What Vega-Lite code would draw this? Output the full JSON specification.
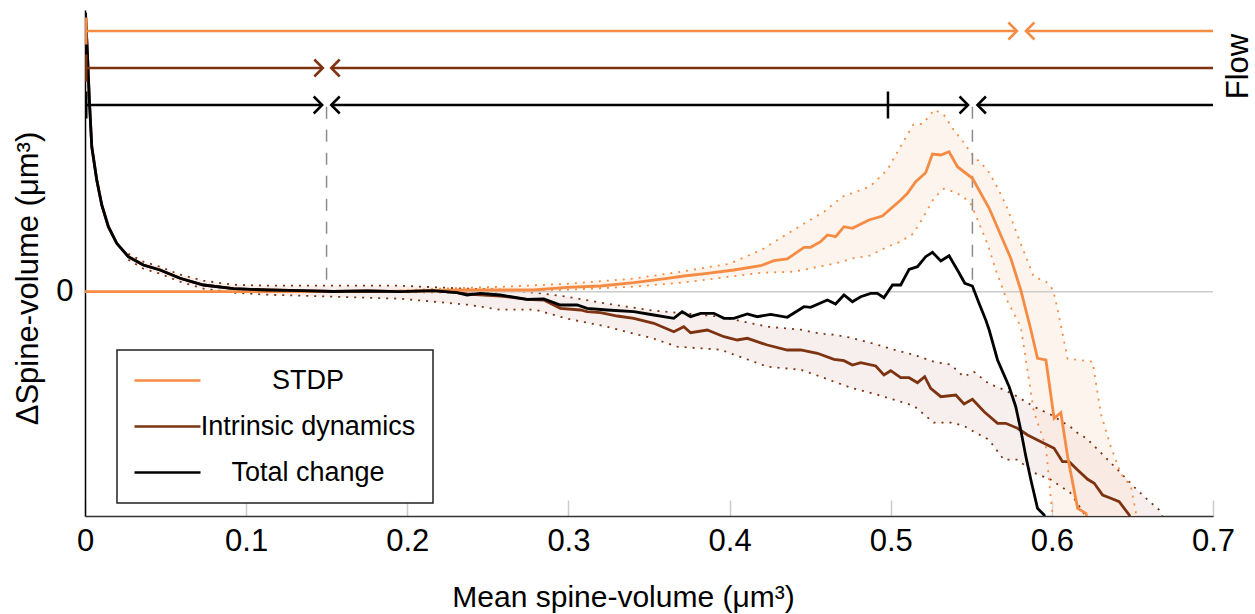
{
  "$schema": "https://vega.github.io/schema/vega-lite/v6.json",
  "width": 1128,
  "height": 506,
  "autosize": {"type": "none"},
  "padding": {"left": 85, "top": 10, "right": 42, "bottom": 98},
  "config": {
    "view": {"stroke": null},
    "font": "Liberation Sans",
    "legend": {"strokeWidth": 1.5}
  },
  "datasets": {
    "curves": [
      {"series": "Intrinsic dynamics", "x": 0.0003, "y": 2.79},
      {"series": "Intrinsic dynamics", "x": 0.0014, "y": 2.417},
      {"series": "Intrinsic dynamics", "x": 0.0027, "y": 1.917},
      {"series": "Intrinsic dynamics", "x": 0.0042, "y": 1.45},
      {"series": "Intrinsic dynamics", "x": 0.0073, "y": 1.117},
      {"series": "Intrinsic dynamics", "x": 0.0104, "y": 0.867},
      {"series": "Intrinsic dynamics", "x": 0.0145, "y": 0.65},
      {"series": "Intrinsic dynamics", "x": 0.0197, "y": 0.484},
      {"series": "Intrinsic dynamics", "x": 0.0269, "y": 0.35},
      {"series": "Intrinsic dynamics", "x": 0.0362, "y": 0.267},
      {"series": "Intrinsic dynamics", "x": 0.0466, "y": 0.217},
      {"series": "Intrinsic dynamics", "x": 0.059, "y": 0.134},
      {"series": "Intrinsic dynamics", "x": 0.0735, "y": 0.067},
      {"series": "Intrinsic dynamics", "x": 0.0921, "y": 0.03},
      {"series": "Intrinsic dynamics", "x": 0.1129, "y": 0.017},
      {"series": "Intrinsic dynamics", "x": 0.1335, "y": 0.01},
      {"series": "Intrinsic dynamics", "x": 0.154, "y": 0.002},
      {"series": "Intrinsic dynamics", "x": 0.175, "y": 0.007},
      {"series": "Intrinsic dynamics", "x": 0.1957, "y": 0.0},
      {"series": "Intrinsic dynamics", "x": 0.2161, "y": 0.01},
      {"series": "Intrinsic dynamics", "x": 0.2309, "y": -0.01},
      {"series": "Intrinsic dynamics", "x": 0.2371, "y": -0.023},
      {"series": "Intrinsic dynamics", "x": 0.2578, "y": -0.043},
      {"series": "Intrinsic dynamics", "x": 0.2743, "y": -0.076},
      {"series": "Intrinsic dynamics", "x": 0.2847, "y": -0.083},
      {"series": "Intrinsic dynamics", "x": 0.295, "y": -0.166},
      {"series": "Intrinsic dynamics", "x": 0.3075, "y": -0.183},
      {"series": "Intrinsic dynamics", "x": 0.3116, "y": -0.2},
      {"series": "Intrinsic dynamics", "x": 0.3199, "y": -0.21},
      {"series": "Intrinsic dynamics", "x": 0.3303, "y": -0.243},
      {"series": "Intrinsic dynamics", "x": 0.3406, "y": -0.266},
      {"series": "Intrinsic dynamics", "x": 0.353, "y": -0.316},
      {"series": "Intrinsic dynamics", "x": 0.3654, "y": -0.4},
      {"series": "Intrinsic dynamics", "x": 0.3716, "y": -0.35},
      {"series": "Intrinsic dynamics", "x": 0.3758, "y": -0.41},
      {"series": "Intrinsic dynamics", "x": 0.3862, "y": -0.383},
      {"series": "Intrinsic dynamics", "x": 0.3965, "y": -0.45},
      {"series": "Intrinsic dynamics", "x": 0.4048, "y": -0.483},
      {"series": "Intrinsic dynamics", "x": 0.411, "y": -0.466},
      {"series": "Intrinsic dynamics", "x": 0.4234, "y": -0.533},
      {"series": "Intrinsic dynamics", "x": 0.4358, "y": -0.583},
      {"series": "Intrinsic dynamics", "x": 0.4441, "y": -0.583},
      {"series": "Intrinsic dynamics", "x": 0.4545, "y": -0.616},
      {"series": "Intrinsic dynamics", "x": 0.4648, "y": -0.676},
      {"series": "Intrinsic dynamics", "x": 0.471, "y": -0.69},
      {"series": "Intrinsic dynamics", "x": 0.4762, "y": -0.733},
      {"series": "Intrinsic dynamics", "x": 0.4814, "y": -0.71},
      {"series": "Intrinsic dynamics", "x": 0.4907, "y": -0.743},
      {"series": "Intrinsic dynamics", "x": 0.4958, "y": -0.833},
      {"series": "Intrinsic dynamics", "x": 0.5, "y": -0.79},
      {"series": "Intrinsic dynamics", "x": 0.5062, "y": -0.86},
      {"series": "Intrinsic dynamics", "x": 0.5114, "y": -0.86},
      {"series": "Intrinsic dynamics", "x": 0.5166, "y": -0.91},
      {"series": "Intrinsic dynamics", "x": 0.5211, "y": -0.85},
      {"series": "Intrinsic dynamics", "x": 0.5248, "y": -0.966},
      {"series": "Intrinsic dynamics", "x": 0.5311, "y": -1.05},
      {"series": "Intrinsic dynamics", "x": 0.5404, "y": -1.033},
      {"series": "Intrinsic dynamics", "x": 0.5455, "y": -1.123},
      {"series": "Intrinsic dynamics", "x": 0.5507, "y": -1.076},
      {"series": "Intrinsic dynamics", "x": 0.558, "y": -1.2},
      {"series": "Intrinsic dynamics", "x": 0.5663, "y": -1.316},
      {"series": "Intrinsic dynamics", "x": 0.5714, "y": -1.316},
      {"series": "Intrinsic dynamics", "x": 0.5787, "y": -1.366},
      {"series": "Intrinsic dynamics", "x": 0.5849, "y": -1.433},
      {"series": "Intrinsic dynamics", "x": 0.5932, "y": -1.5},
      {"series": "Intrinsic dynamics", "x": 0.6014, "y": -1.566},
      {"series": "Intrinsic dynamics", "x": 0.6066, "y": -1.7},
      {"series": "Intrinsic dynamics", "x": 0.6107, "y": -1.7},
      {"series": "Intrinsic dynamics", "x": 0.616, "y": -1.783},
      {"series": "Intrinsic dynamics", "x": 0.6222, "y": -1.876},
      {"series": "Intrinsic dynamics", "x": 0.6263, "y": -1.916},
      {"series": "Intrinsic dynamics", "x": 0.6315, "y": -2.033},
      {"series": "Intrinsic dynamics", "x": 0.6366, "y": -2.066},
      {"series": "Intrinsic dynamics", "x": 0.6418, "y": -2.1},
      {"series": "Intrinsic dynamics", "x": 0.648, "y": -2.233},
      {"series": "Intrinsic dynamics", "x": 0.65, "y": -2.33},
      {"series": "STDP", "x": 0, "y": 0},
      {"series": "STDP", "x": 0.05, "y": 0},
      {"series": "STDP", "x": 0.1, "y": 0},
      {"series": "STDP", "x": 0.15, "y": 0},
      {"series": "STDP", "x": 0.2, "y": 0.005},
      {"series": "STDP", "x": 0.2371, "y": 0.017},
      {"series": "STDP", "x": 0.2783, "y": 0.017},
      {"series": "STDP", "x": 0.2992, "y": 0.044},
      {"series": "STDP", "x": 0.3199, "y": 0.057},
      {"series": "STDP", "x": 0.3406, "y": 0.09},
      {"series": "STDP", "x": 0.3613, "y": 0.134},
      {"series": "STDP", "x": 0.3716, "y": 0.157},
      {"series": "STDP", "x": 0.3862, "y": 0.184},
      {"series": "STDP", "x": 0.4027, "y": 0.217},
      {"series": "STDP", "x": 0.4193, "y": 0.26},
      {"series": "STDP", "x": 0.4275, "y": 0.31},
      {"series": "STDP", "x": 0.4358, "y": 0.327},
      {"series": "STDP", "x": 0.4462, "y": 0.444},
      {"series": "STDP", "x": 0.4503, "y": 0.444},
      {"series": "STDP", "x": 0.4565, "y": 0.5},
      {"series": "STDP", "x": 0.4607, "y": 0.567},
      {"series": "STDP", "x": 0.4658, "y": 0.55},
      {"series": "STDP", "x": 0.471, "y": 0.65},
      {"series": "STDP", "x": 0.4762, "y": 0.634},
      {"series": "STDP", "x": 0.4865, "y": 0.717},
      {"series": "STDP", "x": 0.4948, "y": 0.757},
      {"series": "STDP", "x": 0.5062, "y": 0.917},
      {"series": "STDP", "x": 0.5104, "y": 0.984},
      {"series": "STDP", "x": 0.5155, "y": 1.1},
      {"series": "STDP", "x": 0.5217, "y": 1.19},
      {"series": "STDP", "x": 0.5259, "y": 1.377},
      {"series": "STDP", "x": 0.5311, "y": 1.367},
      {"series": "STDP", "x": 0.5362, "y": 1.4},
      {"series": "STDP", "x": 0.5414, "y": 1.25},
      {"series": "STDP", "x": 0.5507, "y": 1.134},
      {"series": "STDP", "x": 0.5611, "y": 0.834},
      {"series": "STDP", "x": 0.5745, "y": 0.334},
      {"series": "STDP", "x": 0.5807, "y": 0.017},
      {"series": "STDP", "x": 0.587, "y": -0.383},
      {"series": "STDP", "x": 0.5911, "y": -0.666},
      {"series": "STDP", "x": 0.5963, "y": -0.683},
      {"series": "STDP", "x": 0.6014, "y": -1.266},
      {"series": "STDP", "x": 0.6056, "y": -1.21},
      {"series": "STDP", "x": 0.6098, "y": -1.65},
      {"series": "STDP", "x": 0.616, "y": -2.166},
      {"series": "STDP", "x": 0.6211, "y": -2.216},
      {"series": "STDP", "x": 0.623, "y": -2.33},
      {"series": "Total change", "x": 0.0003, "y": 2.79},
      {"series": "Total change", "x": 0.0014, "y": 2.417},
      {"series": "Total change", "x": 0.0027, "y": 1.917},
      {"series": "Total change", "x": 0.0042, "y": 1.45},
      {"series": "Total change", "x": 0.0073, "y": 1.117},
      {"series": "Total change", "x": 0.0104, "y": 0.867},
      {"series": "Total change", "x": 0.0145, "y": 0.65},
      {"series": "Total change", "x": 0.0197, "y": 0.484},
      {"series": "Total change", "x": 0.0269, "y": 0.35},
      {"series": "Total change", "x": 0.0362, "y": 0.267},
      {"series": "Total change", "x": 0.0466, "y": 0.217},
      {"series": "Total change", "x": 0.059, "y": 0.134},
      {"series": "Total change", "x": 0.0735, "y": 0.067},
      {"series": "Total change", "x": 0.0921, "y": 0.03},
      {"series": "Total change", "x": 0.1129, "y": 0.017},
      {"series": "Total change", "x": 0.1335, "y": 0.01},
      {"series": "Total change", "x": 0.154, "y": 0.002},
      {"series": "Total change", "x": 0.175, "y": 0.007},
      {"series": "Total change", "x": 0.1957, "y": 0.0},
      {"series": "Total change", "x": 0.2161, "y": 0.01},
      {"series": "Total change", "x": 0.2309, "y": -0.01},
      {"series": "Total change", "x": 0.2371, "y": -0.033},
      {"series": "Total change", "x": 0.2453, "y": -0.016},
      {"series": "Total change", "x": 0.2578, "y": -0.033},
      {"series": "Total change", "x": 0.2743, "y": -0.076},
      {"series": "Total change", "x": 0.2847, "y": -0.073},
      {"series": "Total change", "x": 0.295, "y": -0.133},
      {"series": "Total change", "x": 0.3054, "y": -0.133},
      {"series": "Total change", "x": 0.3116, "y": -0.166},
      {"series": "Total change", "x": 0.324, "y": -0.183},
      {"series": "Total change", "x": 0.3406, "y": -0.2},
      {"series": "Total change", "x": 0.353, "y": -0.233},
      {"series": "Total change", "x": 0.3654, "y": -0.266},
      {"series": "Total change", "x": 0.3706, "y": -0.2},
      {"series": "Total change", "x": 0.3758, "y": -0.25},
      {"series": "Total change", "x": 0.382, "y": -0.216},
      {"series": "Total change", "x": 0.3902, "y": -0.216},
      {"series": "Total change", "x": 0.3965, "y": -0.266},
      {"series": "Total change", "x": 0.4027, "y": -0.266},
      {"series": "Total change", "x": 0.411, "y": -0.223},
      {"series": "Total change", "x": 0.4172, "y": -0.25},
      {"series": "Total change", "x": 0.4255, "y": -0.226},
      {"series": "Total change", "x": 0.4358, "y": -0.256},
      {"series": "Total change", "x": 0.4462, "y": -0.15},
      {"series": "Total change", "x": 0.4503, "y": -0.156},
      {"series": "Total change", "x": 0.4607, "y": -0.083},
      {"series": "Total change", "x": 0.4658, "y": -0.123},
      {"series": "Total change", "x": 0.471, "y": -0.033},
      {"series": "Total change", "x": 0.4762, "y": -0.1},
      {"series": "Total change", "x": 0.4814, "y": -0.05},
      {"series": "Total change", "x": 0.4876, "y": -0.016},
      {"series": "Total change", "x": 0.4917, "y": -0.016},
      {"series": "Total change", "x": 0.4958, "y": -0.06},
      {"series": "Total change", "x": 0.5011, "y": 0.067},
      {"series": "Total change", "x": 0.5062, "y": 0.067},
      {"series": "Total change", "x": 0.5114, "y": 0.224},
      {"series": "Total change", "x": 0.5166, "y": 0.25},
      {"series": "Total change", "x": 0.5217, "y": 0.35},
      {"series": "Total change", "x": 0.5259, "y": 0.394},
      {"series": "Total change", "x": 0.5311, "y": 0.307},
      {"series": "Total change", "x": 0.5362, "y": 0.36},
      {"series": "Total change", "x": 0.5414, "y": 0.217},
      {"series": "Total change", "x": 0.546, "y": 0.084},
      {"series": "Total change", "x": 0.5507, "y": 0.057},
      {"series": "Total change", "x": 0.5548, "y": -0.116},
      {"series": "Total change", "x": 0.559, "y": -0.283},
      {"series": "Total change", "x": 0.5611, "y": -0.383},
      {"series": "Total change", "x": 0.5663, "y": -0.683},
      {"series": "Total change", "x": 0.5735, "y": -0.95},
      {"series": "Total change", "x": 0.5776, "y": -1.15},
      {"series": "Total change", "x": 0.5807, "y": -1.383},
      {"series": "Total change", "x": 0.5839, "y": -1.65},
      {"series": "Total change", "x": 0.587, "y": -1.883},
      {"series": "Total change", "x": 0.5911, "y": -2.166},
      {"series": "Total change", "x": 0.5952, "y": -2.233},
      {"series": "Total change", "x": 0.597, "y": -2.38}
    ],
    "bands": [
      {"series": "Intrinsic dynamics", "x": 0.0269, "lo": 0.32, "hi": 0.38},
      {"series": "Intrinsic dynamics", "x": 0.0362, "lo": 0.23, "hi": 0.3},
      {"series": "Intrinsic dynamics", "x": 0.0466, "lo": 0.18, "hi": 0.25},
      {"series": "Intrinsic dynamics", "x": 0.059, "lo": 0.1, "hi": 0.17},
      {"series": "Intrinsic dynamics", "x": 0.0735, "lo": 0.03, "hi": 0.11},
      {"series": "Intrinsic dynamics", "x": 0.0921, "lo": -0.01, "hi": 0.07},
      {"series": "Intrinsic dynamics", "x": 0.113, "lo": -0.03, "hi": 0.06},
      {"series": "Intrinsic dynamics", "x": 0.154, "lo": -0.05, "hi": 0.06},
      {"series": "Intrinsic dynamics", "x": 0.1957, "lo": -0.07, "hi": 0.06},
      {"series": "Intrinsic dynamics", "x": 0.2371, "lo": -0.13, "hi": 0.03},
      {"series": "Intrinsic dynamics", "x": 0.2578, "lo": -0.18, "hi": 0.02},
      {"series": "Intrinsic dynamics", "x": 0.2795, "lo": -0.18, "hi": -0.01},
      {"series": "Intrinsic dynamics", "x": 0.2992, "lo": -0.27, "hi": -0.05},
      {"series": "Intrinsic dynamics", "x": 0.324, "lo": -0.35, "hi": -0.12},
      {"series": "Intrinsic dynamics", "x": 0.353, "lo": -0.47, "hi": -0.19},
      {"series": "Intrinsic dynamics", "x": 0.3675, "lo": -0.55, "hi": -0.21},
      {"series": "Intrinsic dynamics", "x": 0.3944, "lo": -0.58, "hi": -0.25},
      {"series": "Intrinsic dynamics", "x": 0.4234, "lo": -0.75, "hi": -0.35},
      {"series": "Intrinsic dynamics", "x": 0.4441, "lo": -0.78, "hi": -0.38},
      {"series": "Intrinsic dynamics", "x": 0.4565, "lo": -0.85, "hi": -0.42},
      {"series": "Intrinsic dynamics", "x": 0.4648, "lo": -0.9, "hi": -0.43},
      {"series": "Intrinsic dynamics", "x": 0.4752, "lo": -0.96, "hi": -0.46},
      {"series": "Intrinsic dynamics", "x": 0.4917, "lo": -1.03, "hi": -0.53},
      {"series": "Intrinsic dynamics", "x": 0.5019, "lo": -1.08, "hi": -0.58},
      {"series": "Intrinsic dynamics", "x": 0.5143, "lo": -1.14, "hi": -0.63},
      {"series": "Intrinsic dynamics", "x": 0.5267, "lo": -1.31, "hi": -0.7},
      {"series": "Intrinsic dynamics", "x": 0.5373, "lo": -1.31, "hi": -0.73},
      {"series": "Intrinsic dynamics", "x": 0.5453, "lo": -1.34, "hi": -0.85},
      {"series": "Intrinsic dynamics", "x": 0.5516, "lo": -1.4, "hi": -0.8},
      {"series": "Intrinsic dynamics", "x": 0.5609, "lo": -1.48, "hi": -0.92},
      {"series": "Intrinsic dynamics", "x": 0.5702, "lo": -1.68, "hi": -0.98},
      {"series": "Intrinsic dynamics", "x": 0.5787, "lo": -1.68, "hi": -1.05},
      {"series": "Intrinsic dynamics", "x": 0.5888, "lo": -1.81, "hi": -1.15},
      {"series": "Intrinsic dynamics", "x": 0.5994, "lo": -1.88, "hi": -1.23},
      {"series": "Intrinsic dynamics", "x": 0.6114, "lo": -2.01, "hi": -1.35},
      {"series": "Intrinsic dynamics", "x": 0.6172, "lo": -2.15, "hi": -1.43},
      {"series": "Intrinsic dynamics", "x": 0.6211, "lo": -2.25, "hi": -1.46},
      {"series": "Intrinsic dynamics", "x": 0.6304, "lo": -2.3, "hi": -1.61},
      {"series": "Intrinsic dynamics", "x": 0.6408, "lo": -2.3, "hi": -1.78},
      {"series": "Intrinsic dynamics", "x": 0.6509, "lo": -2.3, "hi": -1.95},
      {"series": "Intrinsic dynamics", "x": 0.6594, "lo": -2.3, "hi": -2.08},
      {"series": "Intrinsic dynamics", "x": 0.6665, "lo": -2.3, "hi": -2.18},
      {"series": "Intrinsic dynamics", "x": 0.67, "lo": -2.3, "hi": -2.3},
      {"series": "STDP", "x": 0.18, "lo": 0, "hi": 0},
      {"series": "STDP", "x": 0.22, "lo": -0.01, "hi": 0.03},
      {"series": "STDP", "x": 0.26, "lo": 0, "hi": 0.05},
      {"series": "STDP", "x": 0.3, "lo": 0.02, "hi": 0.08},
      {"series": "STDP", "x": 0.34, "lo": 0.05, "hi": 0.13},
      {"series": "STDP", "x": 0.37, "lo": 0.09, "hi": 0.2},
      {"series": "STDP", "x": 0.4, "lo": 0.15, "hi": 0.28},
      {"series": "STDP", "x": 0.42, "lo": 0.19, "hi": 0.42},
      {"series": "STDP", "x": 0.44, "lo": 0.2, "hi": 0.62},
      {"series": "STDP", "x": 0.4586, "lo": 0.26, "hi": 0.8},
      {"series": "STDP", "x": 0.47, "lo": 0.3, "hi": 0.95},
      {"series": "STDP", "x": 0.4752, "lo": 0.33, "hi": 0.98},
      {"series": "STDP", "x": 0.487, "lo": 0.36, "hi": 1.05},
      {"series": "STDP", "x": 0.498, "lo": 0.45, "hi": 1.22},
      {"series": "STDP", "x": 0.506, "lo": 0.5, "hi": 1.45},
      {"series": "STDP", "x": 0.514, "lo": 0.58, "hi": 1.67},
      {"series": "STDP", "x": 0.52, "lo": 0.74, "hi": 1.68},
      {"series": "STDP", "x": 0.527, "lo": 0.94, "hi": 1.82},
      {"series": "STDP", "x": 0.533, "lo": 1.03, "hi": 1.77},
      {"series": "STDP", "x": 0.539, "lo": 1.0, "hi": 1.62},
      {"series": "STDP", "x": 0.545, "lo": 0.95, "hi": 1.5},
      {"series": "STDP", "x": 0.55, "lo": 0.87, "hi": 1.38},
      {"series": "STDP", "x": 0.56, "lo": 0.48, "hi": 1.22},
      {"series": "STDP", "x": 0.566, "lo": 0.18, "hi": 1.05},
      {"series": "STDP", "x": 0.572, "lo": -0.08, "hi": 0.85},
      {"series": "STDP", "x": 0.5807, "lo": -0.35, "hi": 0.48},
      {"series": "STDP", "x": 0.5888, "lo": -1.2, "hi": 0.15},
      {"series": "STDP", "x": 0.5963, "lo": -1.55, "hi": 0.1},
      {"series": "STDP", "x": 0.5994, "lo": -2.08, "hi": 0.05},
      {"series": "STDP", "x": 0.601, "lo": -2.3, "hi": 0.0},
      {"series": "STDP", "x": 0.6035, "lo": -2.3, "hi": -0.17},
      {"series": "STDP", "x": 0.6098, "lo": -2.3, "hi": -0.67},
      {"series": "STDP", "x": 0.6253, "lo": -2.3, "hi": -0.7},
      {"series": "STDP", "x": 0.6304, "lo": -2.3, "hi": -1.22},
      {"series": "STDP", "x": 0.6366, "lo": -2.3, "hi": -1.55},
      {"series": "STDP", "x": 0.6429, "lo": -2.3, "hi": -1.82},
      {"series": "STDP", "x": 0.6491, "lo": -2.3, "hi": -1.95},
      {"series": "STDP", "x": 0.6522, "lo": -2.3, "hi": -2.21},
      {"series": "STDP", "x": 0.654, "lo": -2.3, "hi": -2.3}
    ],
    "segments": [
      {"series": "STDP", "from": 0, "to": 0.5783},
      {"series": "STDP", "from": 0.5839, "to": 0.7},
      {"series": "Intrinsic dynamics", "from": 0, "to": 0.1476},
      {"series": "Intrinsic dynamics", "from": 0.1528, "to": 0.7},
      {"series": "Total change", "from": 0, "to": 0.1472},
      {"series": "Total change", "from": 0.1528, "to": 0.548},
      {"series": "Total change", "from": 0.5538, "to": 0.7}
    ],
    "heads": [
      {"series": "STDP", "x": 0.5783, "dir": "right"},
      {"series": "STDP", "x": 0.5839, "dir": "left"},
      {"series": "Intrinsic dynamics", "x": 0.1476, "dir": "right"},
      {"series": "Intrinsic dynamics", "x": 0.1528, "dir": "left"},
      {"series": "Total change", "x": 0.1472, "dir": "right"},
      {"series": "Total change", "x": 0.1528, "dir": "left"},
      {"series": "Total change", "x": 0.548, "dir": "right"},
      {"series": "Total change", "x": 0.5538, "dir": "left"}
    ],
    "unstable": [
      {"series": "STDP", "x": 0.0008},
      {"series": "Intrinsic dynamics", "x": 0.0008},
      {"series": "Total change", "x": 0.0008},
      {"series": "Total change", "x": 0.4983}
    ],
    "stable": [
      {"series": "Total change", "x": 0.1499},
      {"series": "Total change", "x": 0.5507}
    ]
  },
  "layer": [
    {
      "layer": [
        {
          "data": {"name": "bands"},
          "transform": [{"filter": "datum.series === 'Intrinsic dynamics'"}],
          "mark": {"type": "area", "color": "#efe0dd", "opacity": 0.5, "clip": true},
          "encoding": {
            "x": {"field": "x", "type": "quantitative", "scale": {"domain": [0, 0.7], "nice": false, "zero": false}},
            "y": {"field": "lo", "type": "quantitative", "scale": {"domain": [-2.243, 2.817], "nice": false, "zero": false}},
            "y2": {"field": "hi"}
          }
        },
        {
          "data": {"name": "bands"},
          "transform": [{"filter": "datum.series === 'STDP'"}],
          "mark": {"type": "area", "color": "#fbe6d8", "opacity": 0.45, "clip": true},
          "encoding": {
            "x": {"field": "x", "type": "quantitative"},
            "y": {"field": "lo", "type": "quantitative"},
            "y2": {"field": "hi"}
          }
        },
        {
          "data": {"name": "bands"},
          "mark": {"type": "line", "strokeWidth": 1.8, "strokeDash": [2, 6], "clip": true},
          "encoding": {
            "x": {"field": "x", "type": "quantitative"},
            "y": {"field": "lo", "type": "quantitative"},
            "stroke": {"field": "series", "type": "nominal", "scale": {"domain": ["Total change", "Intrinsic dynamics", "STDP"], "range": ["#000000", "#7d3210", "#f68b43"]}, "legend": null}
          }
        },
        {
          "data": {"name": "bands"},
          "mark": {"type": "line", "strokeWidth": 1.8, "strokeDash": [2, 6], "clip": true},
          "encoding": {
            "x": {"field": "x", "type": "quantitative"},
            "y": {"field": "hi", "type": "quantitative"},
            "stroke": {"field": "series", "type": "nominal", "legend": null}
          }
        },
        {
          "data": {"values": [{"level": 0}]},
          "mark": {"type": "rule", "color": "#cccccc", "strokeWidth": 1.5},
          "encoding": {
            "y": {"field": "level", "type": "quantitative"}
          }
        },
        {
          "data": {"name": "stable"},
          "mark": {"type": "rule", "color": "#8c8c8c", "strokeWidth": 1.5, "strokeDash": [12, 11]},
          "encoding": {
            "x": {"field": "x", "type": "quantitative"},
            "y": {"datum": 1.85, "type": "quantitative"},
            "y2": {"datum": 0}
          }
        },
        {
          "data": {"name": "curves"},
          "mark": {"type": "line", "strokeWidth": 2.8, "clip": true},
          "encoding": {
            "x": {
              "field": "x", "type": "quantitative",
              "axis": {
                "values": [0, 0.1, 0.2, 0.3, 0.4, 0.5, 0.6, 0.7], "format": "~g",
                "title": "Mean spine-volume (μm³)", "titleFontSize": 30, "titleFontWeight": "normal", "titleColor": "#000",
                "titleX": 538, "titleY": 90, "titleAlign": "center", "titleBaseline": "alphabetic",
                "labelFontSize": 31, "labelColor": "#000", "labelPadding": 26, "labelFlush": false, "labelOverlap": false,
                "tickSize": -16, "tickColor": "#cccccc", "tickWidth": 1.5,
                "domainColor": "#333333", "domainWidth": 1.5, "grid": false
              }
            },
            "y": {
              "field": "y", "type": "quantitative",
              "axis": {
                "values": [0], "format": "~g", "title": "ΔSpine-volume (μm³)", "titleFontSize": 31, "titleFontWeight": "normal", "titleColor": "#000",
                "titleX": -48, "titleY": 268, "titleAngle": 270, "titleAlign": "center", "titleBaseline": "alphabetic",
                "labelFontSize": 31, "labelColor": "#000", "labelPadding": 12, "ticks": false,
                "domainColor": "#000000", "domainWidth": 1.5, "grid": false
              }
            },
            "color": {
              "field": "series", "type": "nominal",
              "scale": {"domain": ["STDP", "Intrinsic dynamics", "Total change"], "range": ["#f68b43", "#7d3210", "#000000"]},
              "legend": {
                "orient": "none", "legendX": 32, "legendY": 340, "title": null, "direction": "vertical",
                "symbolType": "M-3,0L3,0", "symbolSize": 484, "symbolStrokeWidth": 2.5, "symbolOffset": 20,
                "labelFontSize": 27, "labelColor": "#000", "labelAlign": "center", "labelOffset": 127, "labelLimit": 400,
                "rowPadding": 18, "padding": 17, "strokeColor": "#222222", "fillColor": "#ffffff"
              }
            }
          }
        }
      ]
    },
    {
      "layer": [
        {
          "data": {"name": "segments"},
          "mark": {"type": "rule", "strokeWidth": 2.5},
          "encoding": {
            "x": {"field": "from", "type": "quantitative"},
            "x2": {"field": "to"},
            "y": {"field": "series", "type": "nominal", "scale": {"type": "point", "domain": ["STDP", "Intrinsic dynamics", "Total change"], "range": [21, 95], "padding": 0}, "axis": null},
            "stroke": {"field": "series", "type": "nominal", "legend": null}
          }
        },
        {
          "data": {"name": "heads"},
          "mark": {"type": "point", "filled": false, "opacity": 1, "strokeWidth": 2.5, "size": 289},
          "encoding": {
            "x": {"field": "x", "type": "quantitative"},
            "y": {"field": "series", "type": "nominal", "axis": null},
            "shape": {"field": "dir", "type": "nominal", "scale": {"domain": ["right", "left"], "range": ["M-1,-1L0,0L-1,1", "M1,-1L0,0L1,1"]}, "legend": null},
            "stroke": {"field": "series", "type": "nominal", "legend": null}
          }
        },
        {
          "data": {"name": "unstable"},
          "mark": {"type": "tick", "thickness": 2.5, "size": 27, "opacity": 1},
          "encoding": {
            "x": {"field": "x", "type": "quantitative"},
            "y": {"field": "series", "type": "nominal", "axis": null},
            "fill": {"field": "series", "type": "nominal", "scale": {"domain": ["Intrinsic dynamics", "STDP", "Total change"], "range": ["#7d3210", "#f68b43", "#000000"]}, "legend": null}
          }
        },
        {
          "data": {"values": [{"label": "Flow"}]},
          "mark": {"type": "text", "angle": 270, "align": "center", "baseline": "alphabetic", "fontSize": 31, "dx": 1.5, "dy": 35, "color": "#000"},
          "encoding": {
            "x": {"datum": 0.7, "type": "quantitative"},
            "y": {"datum": "Intrinsic dynamics", "type": "nominal", "axis": null},
            "text": {"field": "label"}
          }
        }
      ]
    }
  ],
  "resolve": {"scale": {"y": "independent"}}
}
